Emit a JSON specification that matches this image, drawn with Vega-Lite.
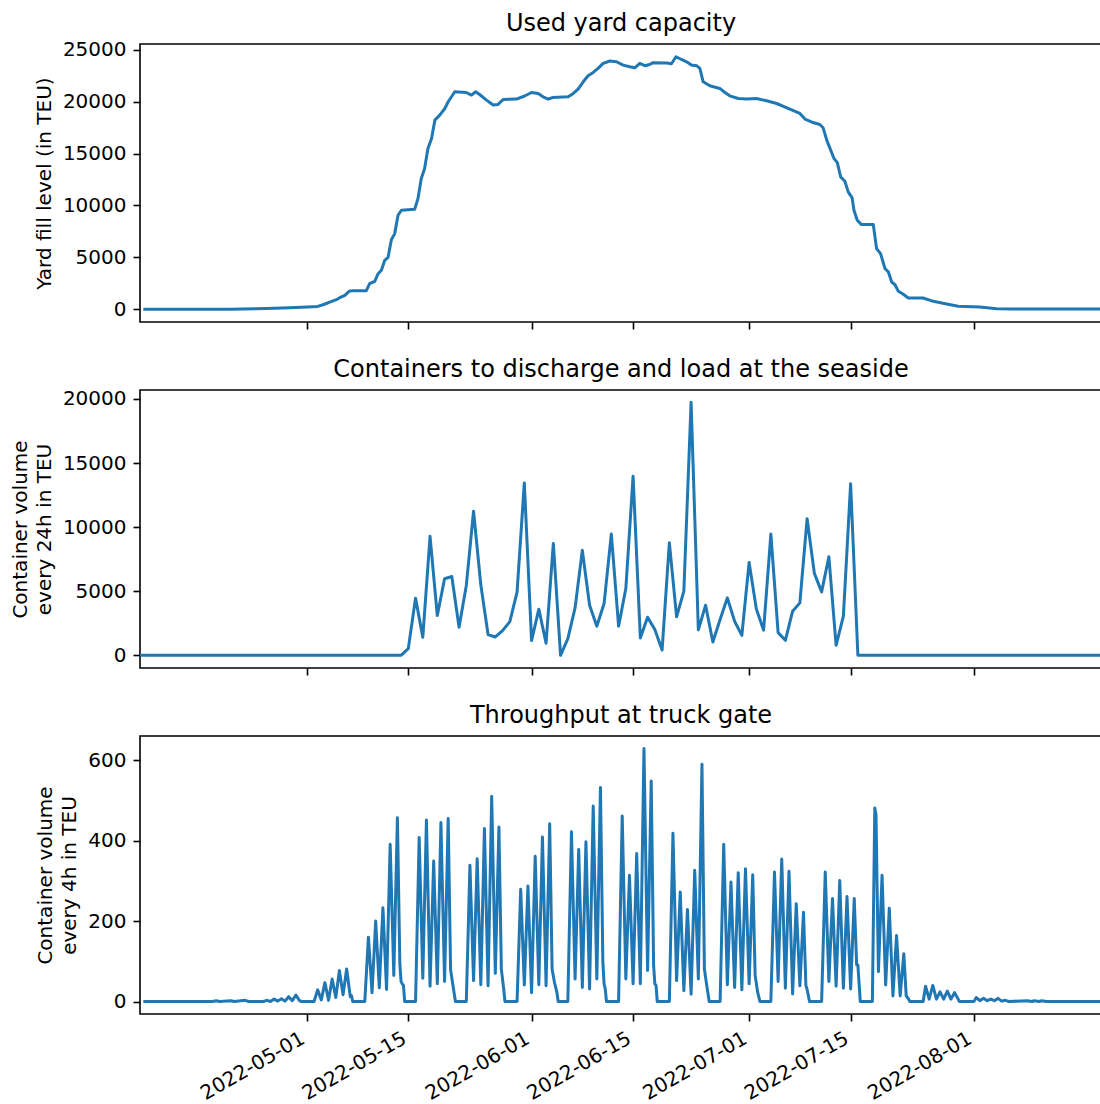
{
  "$schema": "https://vega.github.io/schema/vega-lite/v6.json",
  "padding": {"left": 9, "top": 10, "right": 0, "bottom": 0},
  "background": "white",
  "config": {
    "font": "DejaVu Sans",
    "view": {"stroke": "#000000", "strokeWidth": 1.6},
    "concat": {"spacing": 26},
    "axis": {
      "domain": false, "grid": false,
      "tickColor": "#000000", "tickWidth": 1.6, "tickSize": 7,
      "labelFont": "DejaVu Sans", "labelFontSize": 20, "labelColor": "#000000", "labelPadding": 7,
      "labelFlush": false, "labelOverlap": false,
      "titleFont": "DejaVu Sans", "titleFontSize": 20, "titleFontWeight": "normal", "titleColor": "#000000",
      "titleLineHeight": 24, "titlePadding": 8
    },
    "title": {"font": "DejaVu Sans", "fontSize": 24, "fontWeight": "normal", "color": "#000000", "anchor": "middle", "frame": "group"}
  },
  "datasets": {
    "yard": [
      {"time": "2022-04-08T16:00:00Z", "teu": 0},
      {"time": "2022-04-20T09:00:00Z", "teu": 15},
      {"time": "2022-04-25T11:00:00Z", "teu": 70},
      {"time": "2022-04-28T15:00:00Z", "teu": 150},
      {"time": "2022-05-01T21:00:00Z", "teu": 260},
      {"time": "2022-05-02T12:00:00Z", "teu": 280},
      {"time": "2022-05-03T06:00:00Z", "teu": 440},
      {"time": "2022-05-04T04:00:00Z", "teu": 700},
      {"time": "2022-05-05T02:00:00Z", "teu": 930},
      {"time": "2022-05-05T13:00:00Z", "teu": 1120},
      {"time": "2022-05-06T06:00:00Z", "teu": 1350},
      {"time": "2022-05-06T20:00:00Z", "teu": 1735},
      {"time": "2022-05-07T09:00:00Z", "teu": 1800},
      {"time": "2022-05-09T05:00:00Z", "teu": 1800},
      {"time": "2022-05-09T16:00:00Z", "teu": 2470},
      {"time": "2022-05-10T09:00:00Z", "teu": 2700},
      {"time": "2022-05-10T20:00:00Z", "teu": 3430},
      {"time": "2022-05-11T07:00:00Z", "teu": 3760},
      {"time": "2022-05-11T18:00:00Z", "teu": 4720},
      {"time": "2022-05-12T05:00:00Z", "teu": 5000},
      {"time": "2022-05-12T16:00:00Z", "teu": 6700},
      {"time": "2022-05-13T03:00:00Z", "teu": 7290},
      {"time": "2022-05-13T14:00:00Z", "teu": 9060},
      {"time": "2022-05-14T01:00:00Z", "teu": 9540},
      {"time": "2022-05-15T21:00:00Z", "teu": 9640},
      {"time": "2022-05-16T08:00:00Z", "teu": 10660},
      {"time": "2022-05-16T19:00:00Z", "teu": 12590},
      {"time": "2022-05-17T06:00:00Z", "teu": 13560},
      {"time": "2022-05-17T17:00:00Z", "teu": 15480},
      {"time": "2022-05-18T05:00:00Z", "teu": 16450},
      {"time": "2022-05-18T16:00:00Z", "teu": 18220},
      {"time": "2022-05-19T08:00:00Z", "teu": 18700},
      {"time": "2022-05-20T01:00:00Z", "teu": 19340},
      {"time": "2022-05-20T12:00:00Z", "teu": 19990},
      {"time": "2022-05-20T23:00:00Z", "teu": 20470},
      {"time": "2022-05-21T10:00:00Z", "teu": 20950},
      {"time": "2022-05-23T00:00:00Z", "teu": 20880},
      {"time": "2022-05-23T17:00:00Z", "teu": 20630},
      {"time": "2022-05-24T07:00:00Z", "teu": 20950},
      {"time": "2022-05-24T20:00:00Z", "teu": 20690},
      {"time": "2022-05-25T19:00:00Z", "teu": 20150},
      {"time": "2022-05-26T17:00:00Z", "teu": 19670},
      {"time": "2022-05-27T09:00:00Z", "teu": 19730},
      {"time": "2022-05-28T02:00:00Z", "teu": 20210},
      {"time": "2022-05-29T22:00:00Z", "teu": 20250},
      {"time": "2022-05-31T01:00:00Z", "teu": 20540},
      {"time": "2022-06-01T00:00:00Z", "teu": 20880},
      {"time": "2022-06-01T22:00:00Z", "teu": 20790},
      {"time": "2022-06-02T14:00:00Z", "teu": 20470},
      {"time": "2022-06-03T07:00:00Z", "teu": 20250},
      {"time": "2022-06-03T23:00:00Z", "teu": 20400},
      {"time": "2022-06-06T01:00:00Z", "teu": 20470},
      {"time": "2022-06-06T18:00:00Z", "teu": 20790},
      {"time": "2022-06-07T10:00:00Z", "teu": 21210},
      {"time": "2022-06-08T03:00:00Z", "teu": 21910},
      {"time": "2022-06-08T19:00:00Z", "teu": 22490},
      {"time": "2022-06-09T12:00:00Z", "teu": 22810},
      {"time": "2022-06-10T04:00:00Z", "teu": 23200},
      {"time": "2022-06-10T21:00:00Z", "teu": 23680},
      {"time": "2022-06-11T19:00:00Z", "teu": 23910},
      {"time": "2022-06-12T17:00:00Z", "teu": 23840},
      {"time": "2022-06-13T15:00:00Z", "teu": 23520},
      {"time": "2022-06-14T13:00:00Z", "teu": 23360},
      {"time": "2022-06-15T06:00:00Z", "teu": 23260},
      {"time": "2022-06-15T22:00:00Z", "teu": 23680},
      {"time": "2022-06-16T15:00:00Z", "teu": 23460},
      {"time": "2022-06-17T07:00:00Z", "teu": 23580},
      {"time": "2022-06-17T18:00:00Z", "teu": 23750},
      {"time": "2022-06-19T15:00:00Z", "teu": 23720},
      {"time": "2022-06-20T07:00:00Z", "teu": 23650},
      {"time": "2022-06-20T22:00:00Z", "teu": 24320},
      {"time": "2022-06-21T16:00:00Z", "teu": 24060},
      {"time": "2022-06-22T09:00:00Z", "teu": 23840},
      {"time": "2022-06-23T01:00:00Z", "teu": 23520},
      {"time": "2022-06-23T18:00:00Z", "teu": 23460},
      {"time": "2022-06-24T05:00:00Z", "teu": 23200},
      {"time": "2022-06-24T16:00:00Z", "teu": 21910},
      {"time": "2022-06-25T14:00:00Z", "teu": 21530},
      {"time": "2022-06-26T23:00:00Z", "teu": 21270},
      {"time": "2022-06-27T16:00:00Z", "teu": 20880},
      {"time": "2022-06-28T08:00:00Z", "teu": 20560},
      {"time": "2022-06-29T12:00:00Z", "teu": 20300},
      {"time": "2022-06-30T16:00:00Z", "teu": 20250},
      {"time": "2022-07-02T01:00:00Z", "teu": 20300},
      {"time": "2022-07-03T10:00:00Z", "teu": 20080},
      {"time": "2022-07-04T19:00:00Z", "teu": 19820},
      {"time": "2022-07-06T15:00:00Z", "teu": 19280},
      {"time": "2022-07-08T00:00:00Z", "teu": 18860},
      {"time": "2022-07-08T17:00:00Z", "teu": 18320},
      {"time": "2022-07-09T20:00:00Z", "teu": 17990},
      {"time": "2022-07-10T18:00:00Z", "teu": 17800},
      {"time": "2022-07-11T05:00:00Z", "teu": 17480},
      {"time": "2022-07-11T17:00:00Z", "teu": 16290},
      {"time": "2022-07-12T04:00:00Z", "teu": 15480},
      {"time": "2022-07-12T17:00:00Z", "teu": 14520},
      {"time": "2022-07-13T04:00:00Z", "teu": 14130},
      {"time": "2022-07-13T15:00:00Z", "teu": 12750},
      {"time": "2022-07-14T05:00:00Z", "teu": 12340},
      {"time": "2022-07-14T16:00:00Z", "teu": 11310},
      {"time": "2022-07-15T05:00:00Z", "teu": 10730},
      {"time": "2022-07-15T11:00:00Z", "teu": 9540},
      {"time": "2022-07-15T22:00:00Z", "teu": 8580},
      {"time": "2022-07-16T12:00:00Z", "teu": 8160},
      {"time": "2022-07-18T03:00:00Z", "teu": 8160},
      {"time": "2022-07-18T14:00:00Z", "teu": 5840},
      {"time": "2022-07-19T03:00:00Z", "teu": 5360},
      {"time": "2022-07-19T18:00:00Z", "teu": 3910},
      {"time": "2022-07-20T05:00:00Z", "teu": 3600},
      {"time": "2022-07-20T16:00:00Z", "teu": 2630},
      {"time": "2022-07-21T03:00:00Z", "teu": 2370},
      {"time": "2022-07-21T14:00:00Z", "teu": 1735},
      {"time": "2022-07-22T04:00:00Z", "teu": 1500},
      {"time": "2022-07-22T23:00:00Z", "teu": 1090},
      {"time": "2022-07-25T00:00:00Z", "teu": 1090},
      {"time": "2022-07-26T10:00:00Z", "teu": 770},
      {"time": "2022-07-28T06:00:00Z", "teu": 510},
      {"time": "2022-07-29T20:00:00Z", "teu": 290},
      {"time": "2022-08-01T20:00:00Z", "teu": 220},
      {"time": "2022-08-04T03:00:00Z", "teu": 60},
      {"time": "2022-08-06T10:00:00Z", "teu": 30},
      {"time": "2022-08-19T00:00:00Z", "teu": 20}
    ],
    "sea": [
      {"time": "2022-04-08T00:00:00Z", "teu": 0},
      {"time": "2022-05-14T00:00:00Z", "teu": 0},
      {"time": "2022-05-15T00:00:00Z", "teu": 520},
      {"time": "2022-05-16T00:00:00Z", "teu": 4460},
      {"time": "2022-05-17T00:00:00Z", "teu": 1410},
      {"time": "2022-05-18T00:00:00Z", "teu": 9280},
      {"time": "2022-05-19T00:00:00Z", "teu": 3100},
      {"time": "2022-05-20T00:00:00Z", "teu": 5970},
      {"time": "2022-05-21T00:00:00Z", "teu": 6150},
      {"time": "2022-05-22T00:00:00Z", "teu": 2190},
      {"time": "2022-05-23T00:00:00Z", "teu": 5450},
      {"time": "2022-05-24T00:00:00Z", "teu": 11240},
      {"time": "2022-05-25T00:00:00Z", "teu": 5500},
      {"time": "2022-05-26T00:00:00Z", "teu": 1620},
      {"time": "2022-05-27T00:00:00Z", "teu": 1430},
      {"time": "2022-05-28T00:00:00Z", "teu": 1930},
      {"time": "2022-05-29T00:00:00Z", "teu": 2630},
      {"time": "2022-05-30T00:00:00Z", "teu": 4930},
      {"time": "2022-05-31T00:00:00Z", "teu": 13450},
      {"time": "2022-06-01T00:00:00Z", "teu": 1150},
      {"time": "2022-06-02T00:00:00Z", "teu": 3600},
      {"time": "2022-06-03T00:00:00Z", "teu": 940},
      {"time": "2022-06-04T00:00:00Z", "teu": 8730},
      {"time": "2022-06-05T00:00:00Z", "teu": 0},
      {"time": "2022-06-06T00:00:00Z", "teu": 1300},
      {"time": "2022-06-07T00:00:00Z", "teu": 3700},
      {"time": "2022-06-08T00:00:00Z", "teu": 8190},
      {"time": "2022-06-09T00:00:00Z", "teu": 3910},
      {"time": "2022-06-10T00:00:00Z", "teu": 2270},
      {"time": "2022-06-11T00:00:00Z", "teu": 4040},
      {"time": "2022-06-12T00:00:00Z", "teu": 9470},
      {"time": "2022-06-13T00:00:00Z", "teu": 2270},
      {"time": "2022-06-14T00:00:00Z", "teu": 5210},
      {"time": "2022-06-15T00:00:00Z", "teu": 13980},
      {"time": "2022-06-16T00:00:00Z", "teu": 1350},
      {"time": "2022-06-17T00:00:00Z", "teu": 2970},
      {"time": "2022-06-18T00:00:00Z", "teu": 2010},
      {"time": "2022-06-19T00:00:00Z", "teu": 410},
      {"time": "2022-06-20T00:00:00Z", "teu": 8790},
      {"time": "2022-06-21T00:00:00Z", "teu": 3000},
      {"time": "2022-06-22T00:00:00Z", "teu": 5010},
      {"time": "2022-06-23T00:00:00Z", "teu": 19740},
      {"time": "2022-06-24T00:00:00Z", "teu": 1980},
      {"time": "2022-06-25T00:00:00Z", "teu": 3910},
      {"time": "2022-06-26T00:00:00Z", "teu": 1040},
      {"time": "2022-06-27T00:00:00Z", "teu": 2790},
      {"time": "2022-06-28T00:00:00Z", "teu": 4480},
      {"time": "2022-06-29T00:00:00Z", "teu": 2660},
      {"time": "2022-06-30T00:00:00Z", "teu": 1560},
      {"time": "2022-07-01T00:00:00Z", "teu": 7250},
      {"time": "2022-07-02T00:00:00Z", "teu": 3620},
      {"time": "2022-07-03T00:00:00Z", "teu": 1960},
      {"time": "2022-07-04T00:00:00Z", "teu": 9460},
      {"time": "2022-07-05T00:00:00Z", "teu": 1770},
      {"time": "2022-07-06T00:00:00Z", "teu": 1170},
      {"time": "2022-07-07T00:00:00Z", "teu": 3440},
      {"time": "2022-07-08T00:00:00Z", "teu": 4090},
      {"time": "2022-07-09T00:00:00Z", "teu": 10660},
      {"time": "2022-07-10T00:00:00Z", "teu": 6390},
      {"time": "2022-07-11T00:00:00Z", "teu": 4950},
      {"time": "2022-07-12T00:00:00Z", "teu": 7690},
      {"time": "2022-07-13T00:00:00Z", "teu": 780},
      {"time": "2022-07-14T00:00:00Z", "teu": 3050},
      {"time": "2022-07-15T00:00:00Z", "teu": 13380},
      {"time": "2022-07-16T00:00:00Z", "teu": 0},
      {"time": "2022-08-19T00:00:00Z", "teu": 0}
    ],
    "gate": [
      {"time": "2022-04-08T16:00:00Z", "teu": 0},
      {"time": "2022-04-18T00:00:00Z", "teu": 0},
      {"time": "2022-04-18T12:00:00Z", "teu": 2},
      {"time": "2022-04-19T00:00:00Z", "teu": 0},
      {"time": "2022-04-20T12:00:00Z", "teu": 2},
      {"time": "2022-04-21T00:00:00Z", "teu": 0},
      {"time": "2022-04-22T12:00:00Z", "teu": 3},
      {"time": "2022-04-23T00:00:00Z", "teu": 0},
      {"time": "2022-04-25T00:00:00Z", "teu": 0},
      {"time": "2022-04-25T12:00:00Z", "teu": 3},
      {"time": "2022-04-26T00:00:00Z", "teu": 0},
      {"time": "2022-04-26T12:00:00Z", "teu": 6},
      {"time": "2022-04-27T00:00:00Z", "teu": 1},
      {"time": "2022-04-27T12:00:00Z", "teu": 7},
      {"time": "2022-04-28T00:00:00Z", "teu": 1},
      {"time": "2022-04-28T12:00:00Z", "teu": 12},
      {"time": "2022-04-29T00:00:00Z", "teu": 2},
      {"time": "2022-04-29T12:00:00Z", "teu": 16},
      {"time": "2022-04-30T00:00:00Z", "teu": 2},
      {"time": "2022-04-30T08:00:00Z", "teu": 0},
      {"time": "2022-05-02T00:00:00Z", "teu": 0},
      {"time": "2022-05-02T12:00:00Z", "teu": 29},
      {"time": "2022-05-03T00:00:00Z", "teu": 4},
      {"time": "2022-05-03T12:00:00Z", "teu": 47},
      {"time": "2022-05-04T00:00:00Z", "teu": 3},
      {"time": "2022-05-04T12:00:00Z", "teu": 56},
      {"time": "2022-05-05T00:00:00Z", "teu": 10},
      {"time": "2022-05-05T12:00:00Z", "teu": 77},
      {"time": "2022-05-06T00:00:00Z", "teu": 17},
      {"time": "2022-05-06T12:00:00Z", "teu": 81},
      {"time": "2022-05-07T00:00:00Z", "teu": 12},
      {"time": "2022-05-07T04:00:00Z", "teu": 15},
      {"time": "2022-05-07T08:00:00Z", "teu": 0},
      {"time": "2022-05-09T00:00:00Z", "teu": 0},
      {"time": "2022-05-09T12:00:00Z", "teu": 160},
      {"time": "2022-05-10T00:00:00Z", "teu": 22},
      {"time": "2022-05-10T12:00:00Z", "teu": 200},
      {"time": "2022-05-11T00:00:00Z", "teu": 34},
      {"time": "2022-05-11T12:00:00Z", "teu": 233},
      {"time": "2022-05-12T00:00:00Z", "teu": 30},
      {"time": "2022-05-12T12:00:00Z", "teu": 391},
      {"time": "2022-05-13T00:00:00Z", "teu": 65},
      {"time": "2022-05-13T12:00:00Z", "teu": 457},
      {"time": "2022-05-13T20:00:00Z", "teu": 94},
      {"time": "2022-05-14T00:00:00Z", "teu": 50},
      {"time": "2022-05-14T04:00:00Z", "teu": 44},
      {"time": "2022-05-14T08:00:00Z", "teu": 40},
      {"time": "2022-05-14T12:00:00Z", "teu": 0},
      {"time": "2022-05-16T00:00:00Z", "teu": 0},
      {"time": "2022-05-16T12:00:00Z", "teu": 408},
      {"time": "2022-05-17T00:00:00Z", "teu": 58},
      {"time": "2022-05-17T12:00:00Z", "teu": 451},
      {"time": "2022-05-18T00:00:00Z", "teu": 38},
      {"time": "2022-05-18T12:00:00Z", "teu": 349},
      {"time": "2022-05-19T00:00:00Z", "teu": 44},
      {"time": "2022-05-19T12:00:00Z", "teu": 445},
      {"time": "2022-05-20T00:00:00Z", "teu": 50},
      {"time": "2022-05-20T12:00:00Z", "teu": 455},
      {"time": "2022-05-20T20:00:00Z", "teu": 79},
      {"time": "2022-05-21T04:00:00Z", "teu": 39},
      {"time": "2022-05-21T12:00:00Z", "teu": 0},
      {"time": "2022-05-23T00:00:00Z", "teu": 0},
      {"time": "2022-05-23T12:00:00Z", "teu": 339},
      {"time": "2022-05-24T00:00:00Z", "teu": 52},
      {"time": "2022-05-24T12:00:00Z", "teu": 355},
      {"time": "2022-05-25T00:00:00Z", "teu": 42},
      {"time": "2022-05-25T12:00:00Z", "teu": 430},
      {"time": "2022-05-26T00:00:00Z", "teu": 39},
      {"time": "2022-05-26T12:00:00Z", "teu": 510},
      {"time": "2022-05-27T00:00:00Z", "teu": 70},
      {"time": "2022-05-27T12:00:00Z", "teu": 434},
      {"time": "2022-05-27T20:00:00Z", "teu": 80},
      {"time": "2022-05-28T04:00:00Z", "teu": 30},
      {"time": "2022-05-28T08:00:00Z", "teu": 0},
      {"time": "2022-05-30T00:00:00Z", "teu": 0},
      {"time": "2022-05-30T12:00:00Z", "teu": 279},
      {"time": "2022-05-31T00:00:00Z", "teu": 41},
      {"time": "2022-05-31T12:00:00Z", "teu": 287},
      {"time": "2022-06-01T00:00:00Z", "teu": 22},
      {"time": "2022-06-01T12:00:00Z", "teu": 361},
      {"time": "2022-06-02T00:00:00Z", "teu": 42},
      {"time": "2022-06-02T12:00:00Z", "teu": 409},
      {"time": "2022-06-03T00:00:00Z", "teu": 39},
      {"time": "2022-06-03T12:00:00Z", "teu": 442},
      {"time": "2022-06-03T20:00:00Z", "teu": 80},
      {"time": "2022-06-04T04:00:00Z", "teu": 47},
      {"time": "2022-06-04T12:00:00Z", "teu": 22},
      {"time": "2022-06-04T16:00:00Z", "teu": 0},
      {"time": "2022-06-06T00:00:00Z", "teu": 0},
      {"time": "2022-06-06T12:00:00Z", "teu": 422},
      {"time": "2022-06-07T00:00:00Z", "teu": 56},
      {"time": "2022-06-07T12:00:00Z", "teu": 378},
      {"time": "2022-06-08T00:00:00Z", "teu": 35},
      {"time": "2022-06-08T12:00:00Z", "teu": 397},
      {"time": "2022-06-09T00:00:00Z", "teu": 31},
      {"time": "2022-06-09T12:00:00Z", "teu": 486},
      {"time": "2022-06-10T00:00:00Z", "teu": 56},
      {"time": "2022-06-10T12:00:00Z", "teu": 532},
      {"time": "2022-06-10T20:00:00Z", "teu": 98},
      {"time": "2022-06-11T00:00:00Z", "teu": 44},
      {"time": "2022-06-11T04:00:00Z", "teu": 31},
      {"time": "2022-06-11T08:00:00Z", "teu": 0},
      {"time": "2022-06-13T00:00:00Z", "teu": 0},
      {"time": "2022-06-13T12:00:00Z", "teu": 461},
      {"time": "2022-06-14T00:00:00Z", "teu": 56},
      {"time": "2022-06-14T12:00:00Z", "teu": 314},
      {"time": "2022-06-15T00:00:00Z", "teu": 44},
      {"time": "2022-06-15T12:00:00Z", "teu": 368},
      {"time": "2022-06-16T00:00:00Z", "teu": 44},
      {"time": "2022-06-16T12:00:00Z", "teu": 629},
      {"time": "2022-06-17T00:00:00Z", "teu": 77},
      {"time": "2022-06-17T12:00:00Z", "teu": 548},
      {"time": "2022-06-17T20:00:00Z", "teu": 89},
      {"time": "2022-06-18T00:00:00Z", "teu": 44},
      {"time": "2022-06-18T04:00:00Z", "teu": 40},
      {"time": "2022-06-18T08:00:00Z", "teu": 0},
      {"time": "2022-06-20T00:00:00Z", "teu": 0},
      {"time": "2022-06-20T12:00:00Z", "teu": 418},
      {"time": "2022-06-21T00:00:00Z", "teu": 52},
      {"time": "2022-06-21T12:00:00Z", "teu": 272},
      {"time": "2022-06-22T00:00:00Z", "teu": 27},
      {"time": "2022-06-22T12:00:00Z", "teu": 229},
      {"time": "2022-06-23T00:00:00Z", "teu": 18},
      {"time": "2022-06-23T12:00:00Z", "teu": 326},
      {"time": "2022-06-24T00:00:00Z", "teu": 56},
      {"time": "2022-06-24T12:00:00Z", "teu": 590},
      {"time": "2022-06-24T20:00:00Z", "teu": 81},
      {"time": "2022-06-25T04:00:00Z", "teu": 39},
      {"time": "2022-06-25T12:00:00Z", "teu": 0},
      {"time": "2022-06-27T00:00:00Z", "teu": 0},
      {"time": "2022-06-27T12:00:00Z", "teu": 391},
      {"time": "2022-06-28T00:00:00Z", "teu": 42},
      {"time": "2022-06-28T12:00:00Z", "teu": 297},
      {"time": "2022-06-29T00:00:00Z", "teu": 35},
      {"time": "2022-06-29T12:00:00Z", "teu": 320},
      {"time": "2022-06-30T00:00:00Z", "teu": 29},
      {"time": "2022-06-30T12:00:00Z", "teu": 330},
      {"time": "2022-07-01T00:00:00Z", "teu": 44},
      {"time": "2022-07-01T12:00:00Z", "teu": 315},
      {"time": "2022-07-01T20:00:00Z", "teu": 65},
      {"time": "2022-07-02T04:00:00Z", "teu": 24},
      {"time": "2022-07-02T12:00:00Z", "teu": 0},
      {"time": "2022-07-04T00:00:00Z", "teu": 0},
      {"time": "2022-07-04T12:00:00Z", "teu": 322},
      {"time": "2022-07-05T00:00:00Z", "teu": 50},
      {"time": "2022-07-05T12:00:00Z", "teu": 354},
      {"time": "2022-07-06T00:00:00Z", "teu": 33},
      {"time": "2022-07-06T12:00:00Z", "teu": 324},
      {"time": "2022-07-07T00:00:00Z", "teu": 19},
      {"time": "2022-07-07T12:00:00Z", "teu": 243},
      {"time": "2022-07-08T00:00:00Z", "teu": 39},
      {"time": "2022-07-08T12:00:00Z", "teu": 222},
      {"time": "2022-07-08T20:00:00Z", "teu": 40},
      {"time": "2022-07-09T00:00:00Z", "teu": 30},
      {"time": "2022-07-09T08:00:00Z", "teu": 0},
      {"time": "2022-07-11T00:00:00Z", "teu": 0},
      {"time": "2022-07-11T12:00:00Z", "teu": 322},
      {"time": "2022-07-12T00:00:00Z", "teu": 50},
      {"time": "2022-07-12T12:00:00Z", "teu": 256},
      {"time": "2022-07-13T00:00:00Z", "teu": 38},
      {"time": "2022-07-13T12:00:00Z", "teu": 301},
      {"time": "2022-07-14T00:00:00Z", "teu": 33},
      {"time": "2022-07-14T12:00:00Z", "teu": 261},
      {"time": "2022-07-15T00:00:00Z", "teu": 31},
      {"time": "2022-07-15T12:00:00Z", "teu": 256},
      {"time": "2022-07-15T20:00:00Z", "teu": 91},
      {"time": "2022-07-16T00:00:00Z", "teu": 91},
      {"time": "2022-07-16T08:00:00Z", "teu": 0},
      {"time": "2022-07-18T00:00:00Z", "teu": 0},
      {"time": "2022-07-18T08:00:00Z", "teu": 481},
      {"time": "2022-07-18T12:00:00Z", "teu": 465},
      {"time": "2022-07-18T20:00:00Z", "teu": 74},
      {"time": "2022-07-19T08:00:00Z", "teu": 314},
      {"time": "2022-07-19T20:00:00Z", "teu": 41},
      {"time": "2022-07-20T08:00:00Z", "teu": 232},
      {"time": "2022-07-20T20:00:00Z", "teu": 14},
      {"time": "2022-07-21T08:00:00Z", "teu": 164},
      {"time": "2022-07-21T20:00:00Z", "teu": 14},
      {"time": "2022-07-22T08:00:00Z", "teu": 119},
      {"time": "2022-07-22T16:00:00Z", "teu": 14},
      {"time": "2022-07-22T20:00:00Z", "teu": 10},
      {"time": "2022-07-23T00:00:00Z", "teu": 6},
      {"time": "2022-07-23T04:00:00Z", "teu": 0},
      {"time": "2022-07-25T00:00:00Z", "teu": 0},
      {"time": "2022-07-25T08:00:00Z", "teu": 38},
      {"time": "2022-07-25T20:00:00Z", "teu": 6},
      {"time": "2022-07-26T08:00:00Z", "teu": 40},
      {"time": "2022-07-26T20:00:00Z", "teu": 6},
      {"time": "2022-07-27T08:00:00Z", "teu": 24},
      {"time": "2022-07-27T20:00:00Z", "teu": 6},
      {"time": "2022-07-28T08:00:00Z", "teu": 26},
      {"time": "2022-07-28T20:00:00Z", "teu": 6},
      {"time": "2022-07-29T08:00:00Z", "teu": 22},
      {"time": "2022-07-29T20:00:00Z", "teu": 6},
      {"time": "2022-07-30T00:00:00Z", "teu": 0},
      {"time": "2022-08-01T00:00:00Z", "teu": 0},
      {"time": "2022-08-01T08:00:00Z", "teu": 10},
      {"time": "2022-08-01T20:00:00Z", "teu": 2},
      {"time": "2022-08-02T08:00:00Z", "teu": 8},
      {"time": "2022-08-02T20:00:00Z", "teu": 2},
      {"time": "2022-08-03T08:00:00Z", "teu": 6},
      {"time": "2022-08-03T20:00:00Z", "teu": 2},
      {"time": "2022-08-04T08:00:00Z", "teu": 8},
      {"time": "2022-08-04T20:00:00Z", "teu": 1},
      {"time": "2022-08-05T08:00:00Z", "teu": 3},
      {"time": "2022-08-05T20:00:00Z", "teu": 0},
      {"time": "2022-08-08T08:00:00Z", "teu": 2},
      {"time": "2022-08-09T00:00:00Z", "teu": 0},
      {"time": "2022-08-09T08:00:00Z", "teu": 2},
      {"time": "2022-08-10T00:00:00Z", "teu": 0},
      {"time": "2022-08-10T08:00:00Z", "teu": 2},
      {"time": "2022-08-11T00:00:00Z", "teu": 0},
      {"time": "2022-08-19T00:00:00Z", "teu": 0}
    ]
  },
  "vconcat": [
    {
      "width": 962, "height": 278,
      "title": {"text": "Used yard capacity", "baseline": "alphabetic", "offset": -15},
      "data": {"name": "yard"},
      "mark": {"type": "line", "color": "#1f77b4", "strokeWidth": 3, "strokeJoin": "round", "strokeCap": "square", "clip": true},
      "encoding": {
        "x": {"field": "time", "type": "temporal", "title": null,
          "scale": {"type": "utc", "domain": [{"year": 2022, "month": 4, "date": 8, "utc": true}, {"year": 2022, "month": 8, "date": 18, "hours": 16, "utc": true}], "nice": false},
          "axis": {"labels": false, "values": [{"year": 2022, "month": 5, "date": 1, "utc": true}, {"year": 2022, "month": 5, "date": 15, "utc": true}, {"year": 2022, "month": 6, "date": 1, "utc": true}, {"year": 2022, "month": 6, "date": 15, "utc": true}, {"year": 2022, "month": 7, "date": 1, "utc": true}, {"year": 2022, "month": 7, "date": 15, "utc": true}, {"year": 2022, "month": 8, "date": 1, "utc": true}]}},
        "y": {"field": "teu", "type": "quantitative", "title": "Yard fill level (in TEU)",
          "scale": {"domain": [-1220, 25550], "nice": false, "zero": false},
          "axis": {"values": [0, 5000, 10000, 15000, 20000, 25000], "format": "d"}}
      }
    },
    {
      "width": 962, "height": 278,
      "title": {"text": "Containers to discharge and load at the seaside", "baseline": "alphabetic", "offset": -12},
      "data": {"name": "sea"},
      "mark": {"type": "line", "color": "#1f77b4", "strokeWidth": 3, "strokeJoin": "round", "strokeCap": "square", "clip": true},
      "encoding": {
        "x": {"field": "time", "type": "temporal", "title": null,
          "scale": {"type": "utc", "domain": [{"year": 2022, "month": 4, "date": 8, "utc": true}, {"year": 2022, "month": 8, "date": 18, "hours": 16, "utc": true}], "nice": false},
          "axis": {"labels": false, "values": [{"year": 2022, "month": 5, "date": 1, "utc": true}, {"year": 2022, "month": 5, "date": 15, "utc": true}, {"year": 2022, "month": 6, "date": 1, "utc": true}, {"year": 2022, "month": 6, "date": 15, "utc": true}, {"year": 2022, "month": 7, "date": 1, "utc": true}, {"year": 2022, "month": 7, "date": 15, "utc": true}, {"year": 2022, "month": 8, "date": 1, "utc": true}]}},
        "y": {"field": "teu", "type": "quantitative", "title": ["Container volume", "every 24h in TEU"],
          "scale": {"domain": [-990, 20700], "nice": false, "zero": false},
          "axis": {"values": [0, 5000, 10000, 15000, 20000], "format": "d"}}
      }
    },
    {
      "width": 962, "height": 278,
      "title": {"text": "Throughput at truck gate", "baseline": "alphabetic", "offset": -11},
      "data": {"name": "gate"},
      "mark": {"type": "line", "color": "#1f77b4", "strokeWidth": 3, "strokeJoin": "round", "strokeCap": "square", "clip": true},
      "encoding": {
        "x": {"field": "time", "type": "temporal", "title": null,
          "scale": {"type": "utc", "domain": [{"year": 2022, "month": 4, "date": 8, "utc": true}, {"year": 2022, "month": 8, "date": 18, "hours": 16, "utc": true}], "nice": false},
          "axis": {"format": "%Y-%m-%d", "labelAngle": -30, "labelAlign": "right", "labelBaseline": "top", "labelOffset": -9, "values": [{"year": 2022, "month": 5, "date": 1, "utc": true}, {"year": 2022, "month": 5, "date": 15, "utc": true}, {"year": 2022, "month": 6, "date": 1, "utc": true}, {"year": 2022, "month": 6, "date": 15, "utc": true}, {"year": 2022, "month": 7, "date": 1, "utc": true}, {"year": 2022, "month": 7, "date": 15, "utc": true}, {"year": 2022, "month": 8, "date": 1, "utc": true}]}},
        "y": {"field": "teu", "type": "quantitative", "title": ["Container volume", "every 4h in TEU"],
          "scale": {"domain": [-31, 660], "nice": false, "zero": false},
          "axis": {"values": [0, 200, 400, 600], "format": "d"}}
      }
    }
  ]
}
